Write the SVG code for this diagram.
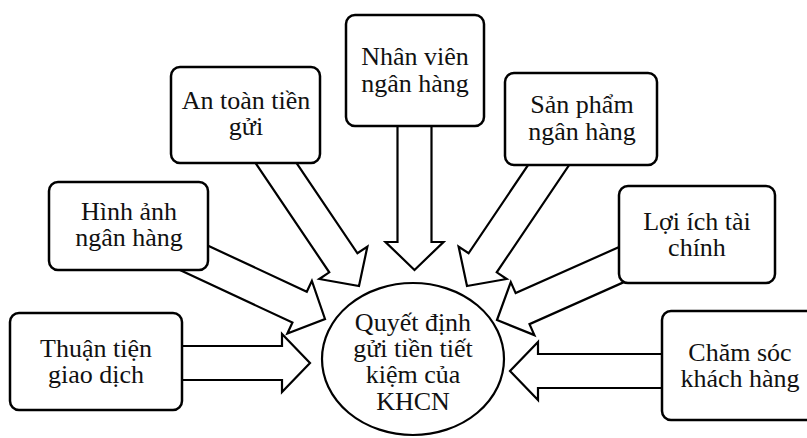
<svg xmlns="http://www.w3.org/2000/svg" width="807" height="438" viewBox="0 0 807 438">
  <style>
    .box { fill: #fff; stroke: #000; stroke-width: 2.5; }
    .hub { fill: #fff; stroke: #000; stroke-width: 2.2; }
    .arrow { fill: #fff; stroke: #000; stroke-width: 2.2; stroke-linejoin: miter; }
    .lbl { font-family: "Liberation Serif", "Times New Roman", serif; font-size: 26px; fill: #111; text-anchor: middle; }
  </style>
  <defs>
    <!-- block arrow pointing along +x, tip at origin; shaft runs back beneath the source box -->
    <polygon id="blk" points="0,0 -28,-29 -28,-17 -180,-17 -180,17 -28,17 -28,29"/>
  </defs>
  <rect width="807" height="438" fill="#fff"/>

  <g id="connectors">
    <use href="#blk" class="arrow" transform="translate(310,363)"/>
    <use href="#blk" class="arrow" transform="translate(325,319) rotate(25)"/>
    <use href="#blk" class="arrow" transform="translate(359,286) rotate(56)"/>
    <use href="#blk" class="arrow" transform="translate(414.5,270) rotate(90)"/>
    <use href="#blk" class="arrow" transform="translate(467,286) rotate(124)"/>
    <use href="#blk" class="arrow" transform="translate(497,320) rotate(156)"/>
    <use href="#blk" class="arrow" transform="translate(510,371) rotate(180)"/>
  </g>

  <g id="thuan-tien">
    <rect class="box" x="10" y="313" width="172" height="97" rx="9"/>
    <text class="lbl" x="96" y="357">Thuận tiện</text>
    <text class="lbl" x="96" y="383">giao dịch</text>
  </g>

  <g id="hinh-anh">
    <rect class="box" x="49" y="182" width="159" height="88" rx="9"/>
    <text class="lbl" x="129" y="220">Hình ảnh</text>
    <text class="lbl" x="129" y="246">ngân hàng</text>
  </g>

  <g id="an-toan">
    <rect class="box" x="171" y="67" width="149" height="96" rx="9"/>
    <text class="lbl" x="246" y="109">An toàn tiền</text>
    <text class="lbl" x="246" y="135">gửi</text>
  </g>

  <g id="nhan-vien">
    <rect class="box" x="346" y="15" width="138" height="111" rx="9"/>
    <text class="lbl" x="415" y="65">Nhân viên</text>
    <text class="lbl" x="415" y="92">ngân hàng</text>
  </g>

  <g id="san-pham">
    <rect class="box" x="505" y="73" width="152" height="92" rx="9"/>
    <text class="lbl" x="582" y="113">Sản phẩm</text>
    <text class="lbl" x="582" y="140">ngân hàng</text>
  </g>

  <g id="loi-ich">
    <rect class="box" x="619" y="186" width="156" height="97" rx="9"/>
    <text class="lbl" x="697" y="230">Lợi ích tài</text>
    <text class="lbl" x="697" y="256">chính</text>
  </g>

  <g id="cham-soc">
    <rect class="box" x="662" y="311" width="156" height="109" rx="9"/>
    <text class="lbl" x="740" y="361">Chăm sóc</text>
    <text class="lbl" x="740" y="387">khách hàng</text>
  </g>

  <g id="quyet-dinh">
    <ellipse class="hub" cx="413" cy="359" rx="91" ry="76"/>
    <text class="lbl" x="413" y="331">Quyết định</text>
    <text class="lbl" x="413" y="357">gửi tiền tiết</text>
    <text class="lbl" x="413" y="383">kiệm của</text>
    <text class="lbl" x="413" y="410">KHCN</text>
  </g>
</svg>
